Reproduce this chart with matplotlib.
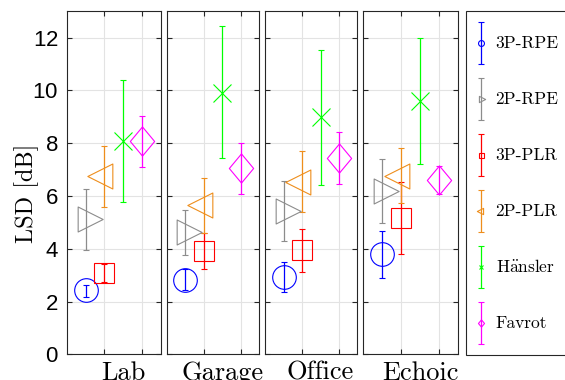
import matplotlib
matplotlib.use('Agg')
import matplotlib.pyplot as plt
import numpy as np
from matplotlib.path import Path
from matplotlib.container import ErrorbarContainer
from matplotlib.legend_handler import HandlerErrorbar

plt.rcParams['font.family'] = 'Liberation Sans'
plt.rcParams['mathtext.fontset'] = 'cm'
plt.rcParams['axes.formatter.use_mathtext'] = True

# Salas e métodos
rooms = ['Lab', 'Garage', 'Office', 'Echoic']
methods = ['3P-RPE', '2P-RPE', '3P-PLR', '2P-PLR', r'H$\ddot{\mathrm{a}}$nsler', 'Favrot']
x_pos = [0.5, 0.5, 1.0, 1.0, 1.5, 2.0]

# Valores médios de LSD [dB] (linhas: métodos, colunas: salas)
rpe3_mean = [2.42, 2.81, 2.94, 3.80]
rpe2_mean = [5.12, 4.62, 5.44, 6.20]
plr3_mean = [3.09, 3.92, 3.95, 5.17]
plr2_mean = [6.75, 5.64, 6.54, 6.77]
hansler_mean = [8.07, 9.91, 8.98, 9.60]
favrot_mean = [8.07, 7.05, 7.44, 6.60]

# Limites superiores das barras de erro
rpe3_hi = [2.62, 3.24, 3.50, 4.68]
rpe2_hi = [6.26, 5.47, 6.58, 7.39]
plr3_hi = [3.43, 4.61, 4.76, 6.54]
plr2_hi = [7.90, 6.69, 7.71, 7.83]
hansler_hi = [10.40, 12.45, 11.55, 11.99]
favrot_hi = [9.02, 8.02, 8.41, 7.13]

# Limites inferiores das barras de erro
rpe3_lo = [2.18, 2.44, 2.36, 2.90]
rpe2_lo = [3.97, 3.76, 4.30, 4.98]
plr3_lo = [2.74, 3.24, 3.12, 3.80]
plr2_lo = [5.59, 4.61, 5.38, 5.74]
hansler_lo = [5.76, 7.44, 6.41, 7.20]
favrot_lo = [7.11, 6.07, 6.46, 6.07]

means = [rpe3_mean, rpe2_mean, plr3_mean, plr2_mean, hansler_mean, favrot_mean]
highs = [rpe3_hi, rpe2_hi, plr3_hi, plr2_hi, hansler_hi, favrot_hi]
lows = [rpe3_lo, rpe2_lo, plr3_lo, plr2_lo, hansler_lo, favrot_lo]

colors = ['#0000ff', '#8c8c8c', '#ff0000', '#ee8e1c', '#00ff00', '#ff00ff']

# Marcadores (triângulos centrados no baricentro, como no MATLAB)
tri_right = Path([(-1, 1.5), (-1, -1.5), (2, 0), (-1, 1.5)], closed=True)
tri_left = Path([(1, 1.5), (1, -1.5), (-2, 0), (1, 1.5)], closed=True)
diamond = Path([(0, 1.2), (1, 0), (0, -1.2), (-1, 0), (0, 1.2)], closed=True)
markers = ['o', tri_right, 's', tri_left, 'x', diamond]
msizes = [17, 24, 14.4, 24, 13, 21]


# legenda: barra de erro centrada verticalmente na caixa do item
class CenteredErrorbar(HandlerErrorbar):
    def create_artists(self, legend, orig_handle, xdescent, ydescent,
                       width, height, fontsize, trans):
        return super().create_artists(legend, orig_handle, xdescent, 2 * ydescent,
                                      width, height, fontsize, trans)


W, H = 565, 380
fig = plt.figure(figsize=(W / 100, H / 100), dpi=100)

# posições dos painéis em pixels (esquerda, direita)
panels_px = [(66.7, 160.7), (166.7, 259.0), (265.3, 357.3), (363.3, 457.7)]
top_px, bot_px = 11.3, 354.3

axes = []
for j, (l, r) in enumerate(panels_px):
    ax = fig.add_axes([l / W, 1 - bot_px / H, (r - l) / W, (bot_px - top_px) / H])
    axes.append(ax)
    handles = []
    for i in range(len(methods)):
        m = means[i][j]
        err = [[m - lows[i][j]], [highs[i][j] - m]]
        h = ax.errorbar([x_pos[i]], [m], yerr=err,
                        linestyle='none', marker=markers[i], markersize=msizes[i],
                        markerfacecolor='none', markeredgecolor=colors[i],
                        markeredgewidth=0.8, ecolor=colors[i], elinewidth=0.9,
                        capsize=2.3, capthick=0.9, label=methods[i])
        handles.append(h)
    ax.set_xlim(0, 2.5)
    ax.set_ylim(0, 13)
    ax.set_yticks(np.arange(0, 13, 2))
    ax.set_xticks([1, 2])
    ax.set_xticks([1.5], labels=[rooms[j]], minor=True)
    ax.grid(True, which='major', color='#e3e3e3', linewidth=0.8)
    ax.set_axisbelow(True)
    ax.tick_params(axis='both', which='major', direction='in', length=3.5,
                   color='#262626', left=True, right=True, top=True, bottom=True,
                   labelbottom=False, labelsize=16, pad=6)
    ax.tick_params(axis='x', which='minor', length=0, labelsize=19, pad=5,
                   labelfontfamily='cmr10')
    if j > 0:
        ax.tick_params(axis='y', labelleft=False)
    for s in ax.spines.values():
        s.set_color('#262626')
        s.set_linewidth(0.8)

axes[0].set_ylabel('LSD [dB]', fontsize=17.5, family='cmr10')
axes[0].yaxis.set_label_coords(-0.29, 0.47)

leg = fig.legend(handles, methods, loc='upper left',
                 bbox_to_anchor=(466 / W, 1 - top_px / H, 120 / W, 0.0),
                 mode='expand', borderaxespad=0, numpoints=1,
                 prop={'family': 'cmr10', 'size': 12.5},
                 markerscale=0.25, handlelength=0.55, handleheight=3.36,
                 handletextpad=0.55, labelspacing=0.8, borderpad=0.6,
                 fancybox=False, framealpha=1, edgecolor='#262626',
                 handler_map={ErrorbarContainer: CenteredErrorbar(yerr_size=1.2)})
leg.get_frame().set_linewidth(0.8)

fig.savefig('out.png', dpi=100)
